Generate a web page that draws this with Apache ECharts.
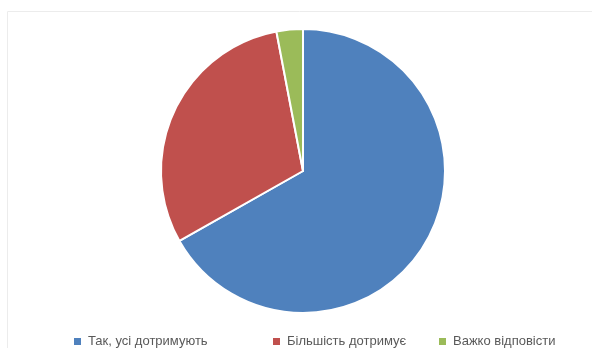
<!DOCTYPE html>
<html><head><meta charset="utf-8">
<script src="https://cdn.jsdelivr.net/npm/echarts@6/dist/echarts.min.js"></script>
<style>html,body{margin:0;padding:0;background:#fff}#c{width:592px;height:356px}</style>
</head><body><div id="c"></div>
<script>
const categories = ["Так, усі дотримують", "Більшість дотримує", "Важко відповісти"];
const values = [66.8, 30.2, 3.0];
const colors = ["#4f81bd", "#c0504d", "#9bbb59"];
const legendLeft = [69, 268, 434];

const chart = echarts.init(document.getElementById('c'), null, {renderer: 'canvas'});
const legends = categories.map((name, i) => ({
  data: [name], left: legendLeft[i], top: 330, orient: 'horizontal',
  icon: 'rect', itemWidth: 7, itemHeight: 7, itemGap: 0,
  itemStyle: {borderWidth: 0},
  textStyle: {fontFamily: 'Liberation Sans, Arial, sans-serif', fontSize: 13, color: '#595959', padding: [0,0,0,2]},
  selectedMode: false
}));
chart.setOption({
  animation: false,
  color: colors,
  graphic: [
    {type: 'line', shape: {x1: 7.5, y1: 11.5, x2: 592, y2: 11.5}, style: {stroke: '#ececec', lineWidth: 1}},
    {type: 'line', shape: {x1: 7.5, y1: 11.5, x2: 7.5, y2: 348}, style: {stroke: '#ececec', lineWidth: 1}}
  ],
  legend: legends,
  series: [{
    type: 'pie',
    center: [303, 171],
    radius: 142,
    startAngle: 90,
    clockwise: true,
    label: {show: false},
    labelLine: {show: false},
    emphasis: {disabled: true},
    itemStyle: {borderColor: '#fff', borderWidth: 2},
    data: categories.map((n, i) => ({name: n, value: values[i]}))
  }]
});
</script></body></html>
